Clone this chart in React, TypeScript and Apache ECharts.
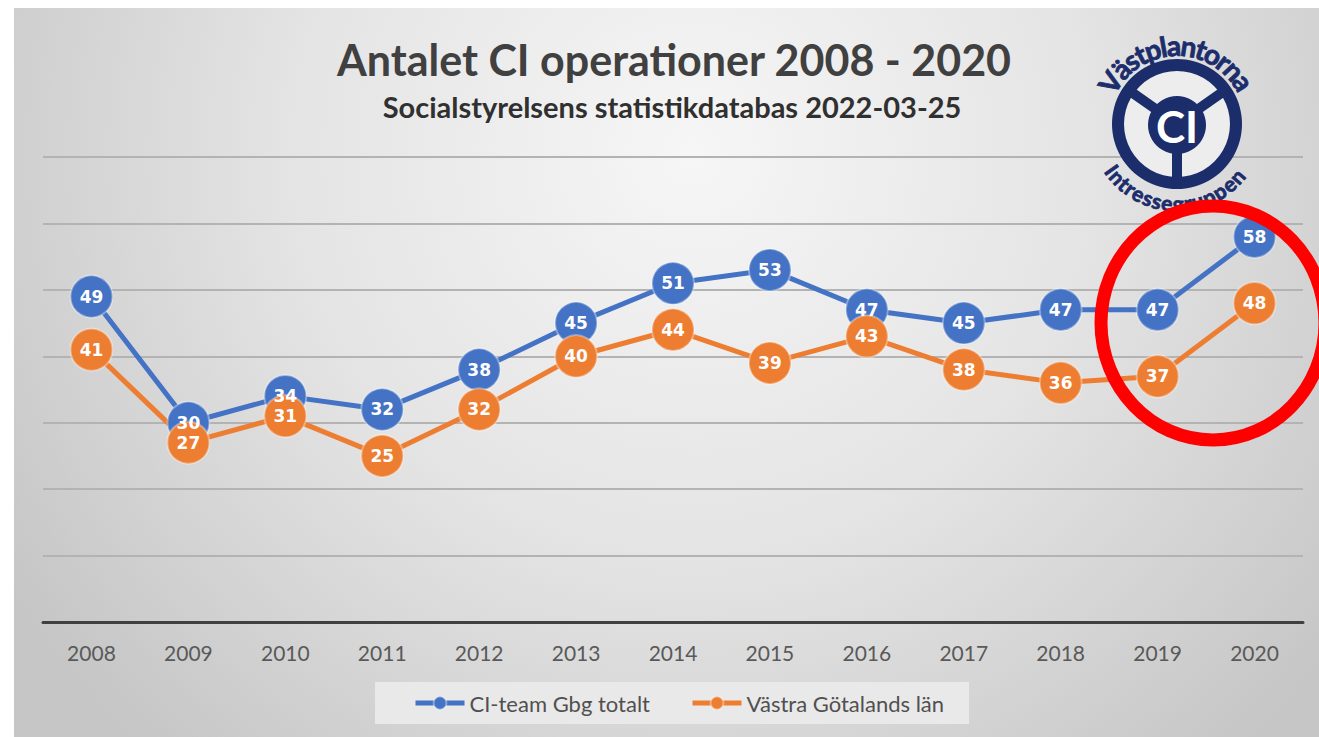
import React, { useEffect, useRef } from "react";
import * as echarts from "echarts";

const years = ["2008", "2009", "2010", "2011", "2012", "2013", "2014", "2015", "2016", "2017", "2018", "2019", "2020"];
const ciTeamGbg = [49, 30, 34, 32, 38, 45, 51, 53, 47, 45, 47, 47, 58];
const vastraGotaland = [41, 27, 31, 25, 32, 40, 44, 39, 43, 38, 36, 37, 48];
const seriesNames = ["CI-team Gbg totalt", "Västra Götalands län"];
const seriesColors = ["#4472C4", "#ED7D31"];
const yMin = 0;
const yMax = 70;
const yInterval = 10;
const titleText = "Antalet CI operationer 2008 - 2020";
const subtitleText = "Socialstyrelsens statistikdatabas 2022-03-25";
const logoTop = "Västplantorna";
const logoBottom = "Intressegruppen";
const logoHub = "CI";

const NAVY = "#1b2d6b";

function arcText(
  text: string,
  fontSize: number,
  cx: number,
  cy: number,
  r: number,
  centerDeg: number,
  top: boolean,
  spacing: number
) {
  const canvas = document.createElement("canvas");
  const ctx = canvas.getContext("2d")!;
  ctx.font = `bold ${fontSize}px Lato`;
  const chars = Array.from(text);
  const widths = chars.map((c) => ctx.measureText(c).width);
  const total = widths.reduce((a, b) => a + b, 0) + spacing * (chars.length - 1);
  const c = (centerDeg * Math.PI) / 180;
  const els: any[] = [];
  let cum = 0;
  chars.forEach((ch, i) => {
    const pos = cum + widths[i] / 2;
    cum += widths[i] + spacing;
    let ang: number, rot: number;
    if (top) {
      ang = c + total / 2 / r - pos / r;
      rot = ang - Math.PI / 2;
    } else {
      ang = c - total / 2 / r + pos / r;
      rot = ang + Math.PI / 2;
    }
    els.push({
      type: "text",
      x: cx + r * Math.cos(ang),
      y: cy - r * Math.sin(ang),
      rotation: rot,
      z: 20,
      style: {
        text: ch,
        fontSize,
        fontWeight: "bold",
        fontFamily: "Lato",
        fill: NAVY,
        stroke: NAVY,
        lineWidth: 0.8,
        align: "center",
        verticalAlign: "middle",
        textAlign: "center",
        textVerticalAlign: "middle",
      },
    });
  });
  return els;
}

function buildLogo() {
  const cx = 1177;
  const cy = 124;
  const els: any[] = [];
  els.push({ type: "circle", z: 18, shape: { cx, cy, r: 53 }, style: { fill: "#ededed" } });
  [145, 35, -90].forEach((deg) => {
    const a = (deg * Math.PI) / 180;
    els.push({
      type: "line",
      z: 19,
      shape: { x1: cx, y1: cy, x2: cx + 56 * Math.cos(a), y2: cy - 56 * Math.sin(a) },
      style: { stroke: NAVY, lineWidth: 10 },
    });
  });
  els.push({ type: "ring", z: 19, shape: { cx, cy, r: 65, r0: 53 }, style: { fill: NAVY } });
  els.push({ type: "circle", z: 19, shape: { cx, cy: cy + 1, r: 29 }, style: { fill: NAVY } });
  els.push({
    type: "text",
    z: 20,
    x: cx,
    y: cy + 2,
    style: {
      text: logoHub,
      fontSize: 44,
      fontWeight: "bold",
      fontFamily: "Lato",
      fill: "#ffffff",
      align: "center",
      verticalAlign: "middle",
      textAlign: "center",
      textVerticalAlign: "middle",
    },
  });
  els.push(...arcText(logoTop, 28, cx, cy, 79, 91, true, 0));
  els.push(...arcText(logoBottom, 21, cx, cy, 79, -92, false, 0));
  return els;
}

export default function App() {
  const ref = useRef<HTMLDivElement>(null);

  useEffect(() => {
    if (!ref.current) return;
    const chart = echarts.init(ref.current, null, { renderer: "svg" });
    const mkSeries = (name: string, data: number[], color: string) => ({
      name,
      type: "line",
      data,
      symbol: "circle",
      symbolSize: 42,
      lineStyle: { color, width: 5 },
      itemStyle: { color, borderColor: "rgba(255,255,255,0.35)", borderWidth: 2 },
      label: {
        show: true,
        position: "inside",
        color: "#ffffff",
        fontWeight: "bold",
        fontSize: 17,
        fontFamily: "DejaVu Sans",
      },
      emphasis: { disabled: true },
    });
    chart.setOption({
      animation: false,
      backgroundColor: "transparent",
      grid: { left: 43, right: 16, top: 157, bottom: 115, containLabel: false },
      xAxis: {
        type: "category",
        data: years,
        boundaryGap: true,
        axisLine: { lineStyle: { color: "#404040", width: 3 } },
        axisTick: { show: false },
        axisLabel: { color: "#595959", fontSize: 21, fontFamily: "Lato", margin: 20 },
      },
      yAxis: {
        type: "value",
        min: yMin,
        max: yMax,
        interval: yInterval,
        axisLabel: { show: false },
        axisLine: { show: false },
        axisTick: { show: false },
        splitLine: { lineStyle: { color: "#b3b3b3", width: 2 } },
      },
      legend: {
        data: seriesNames,
        left: 375,
        top: 682,
        padding: [10, 25, 10, 38],
        itemGap: 40,
        itemWidth: 49,
        itemHeight: 16,
        backgroundColor: "#e9e9e9",
        lineStyle: { width: 5 },
        textStyle: { color: "#505050", fontSize: 22, fontFamily: "Lato" },
      },
      series: [
        mkSeries(seriesNames[0], ciTeamGbg, seriesColors[0]),
        mkSeries(seriesNames[1], vastraGotaland, seriesColors[1]),
      ],
      graphic: [
        {
          type: "text",
          x: 674,
          y: 59,
          z: 10,
          style: {
            text: titleText,
            fontSize: 43,
            fontWeight: "bold",
            fontFamily: "Lato",
            fill: "#404040",
            align: "center",
            verticalAlign: "middle",
            textAlign: "center",
            textVerticalAlign: "middle",
          },
        },
        {
          type: "text",
          x: 672,
          y: 106,
          z: 10,
          style: {
            text: subtitleText,
            fontSize: 29,
            fontWeight: "bold",
            fontFamily: "Lato",
            fill: "#303030",
            align: "center",
            verticalAlign: "middle",
            textAlign: "center",
            textVerticalAlign: "middle",
          },
        },
        ...buildLogo(),
        {
          type: "ellipse",
          z: 100,
          shape: { cx: 1213, cy: 323, rx: 112, ry: 117 },
          style: { fill: "none", stroke: "#ff0000", lineWidth: 13 },
        },
      ],
    });
    return () => chart.dispose();
  }, []);

  return (
    <div style={{ position: "absolute", left: 0, top: 0, width: 1319, height: 737, background: "#ffffff", overflow: "hidden" }}>
      <div
        style={{
          position: "absolute",
          left: 14,
          top: 8,
          right: 0,
          bottom: 0,
          background:
            "radial-gradient(ellipse 62% 110% at 52% 20%, #f6f6f6 0%, #e4e4e4 50%, #c6c6c6 100%)",
        }}
      />
      <div ref={ref} style={{ position: "absolute", left: 0, top: 0, width: 1319, height: 737 }} />
    </div>
  );
}
